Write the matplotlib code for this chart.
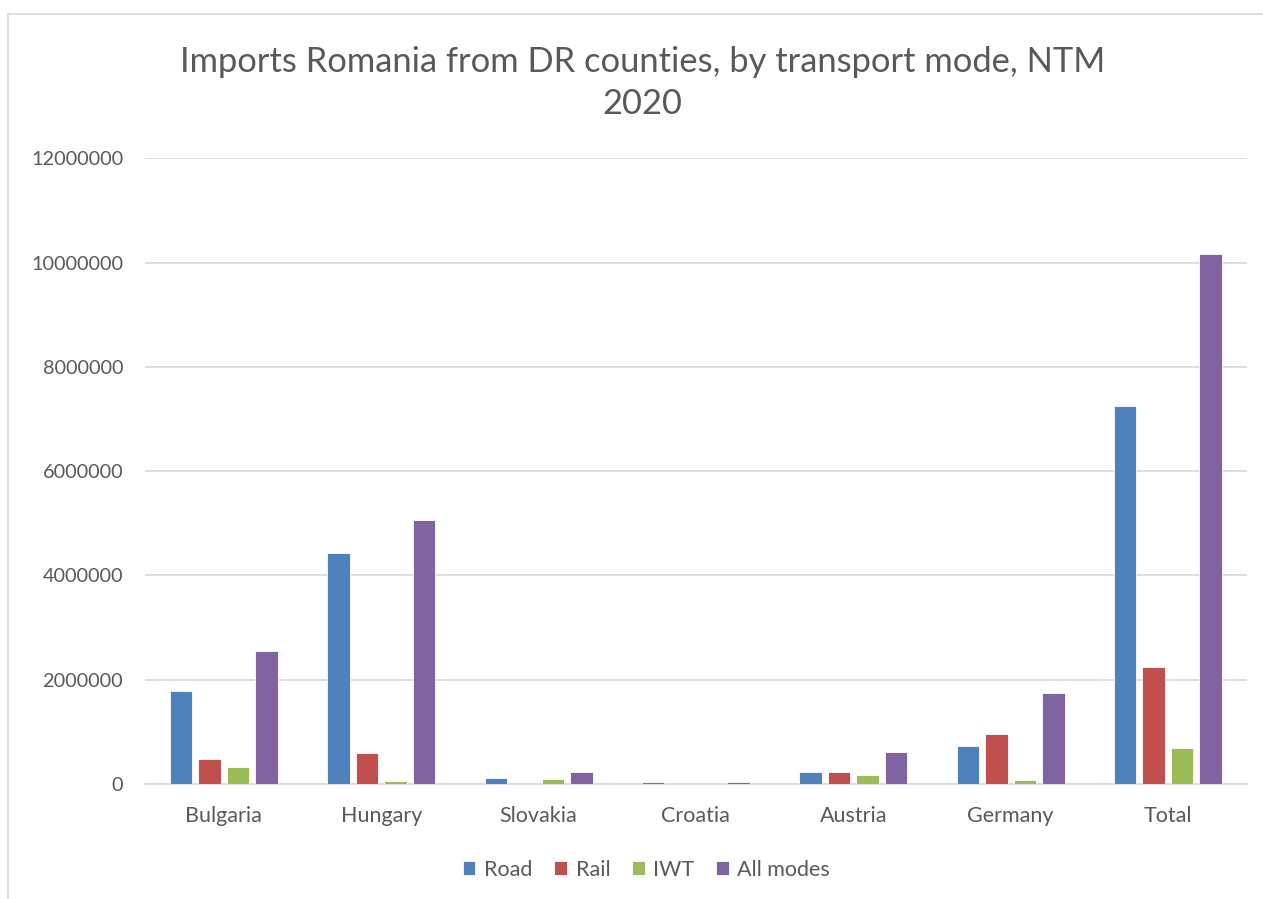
import matplotlib.pyplot as plt
import matplotlib.patches as mpatches
import numpy as np

plt.rcParams['font.family'] = ['Lato', 'DejaVu Sans']

countries = ['Bulgaria', 'Hungary', 'Slovakia', 'Croatia', 'Austria', 'Germany', 'Total']
road = [1780000, 4430000, 110000, 30000, 220000, 720000, 7250000]
rail = [470000, 590000, 0, 0, 230000, 960000, 2240000]
iwt = [320000, 60000, 100000, 0, 170000, 70000, 690000]
all_modes = [2550000, 5060000, 220000, 30000, 610000, 1740000, 10160000]

series = [('Road', road, '#4F81BD'),
          ('Rail', rail, '#C0504D'),
          ('IWT', iwt, '#9BBB59'),
          ('All modes', all_modes, '#8064A2')]

fig = plt.figure(figsize=(12.63, 8.99), dpi=100)
ax = fig.add_axes([0.115, 0.128, 0.872, 0.696])

x = np.arange(len(countries))
step = 0.181
width = 0.143
for i, (name, vals, col) in enumerate(series):
    ax.bar(x + (i - 1.5) * step, vals, width, color=col, label=name,
           edgecolor='white', linewidth=0.6, zorder=3)

ax.set_xlim(-0.5, len(countries) - 0.5)
ax.set_ylim(0, 12000000)
ax.set_yticks(np.arange(0, 12000001, 2000000))
ax.set_yticklabels([str(v) for v in range(0, 12000001, 2000000)])
ax.set_xticks(x)
ax.set_xticklabels(countries)
ax.tick_params(axis='both', length=0, colors='#595959')
ax.tick_params(axis='x', pad=16, labelsize=15.5)
ax.tick_params(axis='y', pad=16, labelsize=14.3)
ax.grid(axis='y', color='#D9D9D9', linewidth=1.2, zorder=0)
for s in ['top', 'right', 'left']:
    ax.spines[s].set_visible(False)
ax.spines['bottom'].set_color('#D9D9D9')
ax.spines['bottom'].set_linewidth(1.2)

fig.text(0.509, 0.908, 'Imports Romania from DR counties, by transport mode, NTM\n2020',
         ha='center', va='center', fontsize=24.8, color='#595959', linespacing=1.38)

ax.legend(loc='upper center', bbox_to_anchor=(0.455, -0.09), ncol=4, frameon=False,
          fontsize=15.5, handlelength=0.6, handleheight=0.6, handletextpad=0.4,
          columnspacing=1.0, labelcolor='#595959')

border = mpatches.Rectangle((8 / 1263, -0.05), 1.1, 1 - 14 / 899 + 0.05,
                            transform=fig.transFigure, fill=False,
                            edgecolor='#D9D9D9', linewidth=1.2)
fig.patches.append(border)

fig.savefig('out.png', dpi=100)
